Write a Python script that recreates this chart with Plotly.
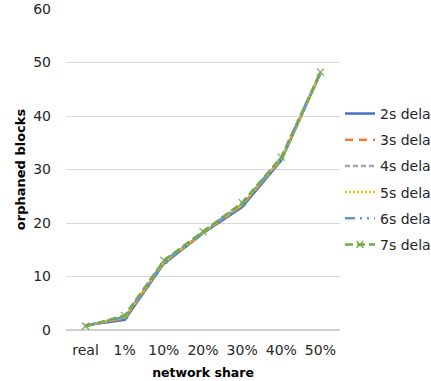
import plotly.graph_objects as go

# network share categories on the x axis
shares = ["real", "1%", "10%", "20%", "30%", "40%", "50%"]

# orphaned blocks per propagation delay
delay_2s = [0.9, 1.9, 12.4, 18.1, 23.0, 31.7, 48.0]
delay_3s = [0.8, 2.2, 12.6, 18.2, 23.3, 31.9, 48.0]
delay_4s = [0.8, 2.3, 12.7, 18.2, 23.4, 32.0, 48.1]
delay_5s = [0.8, 2.4, 12.7, 18.3, 23.5, 32.1, 48.1]
delay_6s = [0.8, 2.5, 12.8, 18.3, 23.6, 32.2, 48.2]
delay_7s = [0.7, 2.7, 13.0, 18.4, 23.8, 32.3, 48.2]

names = ["2s delay", "3s delay", "4s delay", "5s delay", "6s delay", "7s delay"]
colors = ["#4472C4", "#ED7D31", "#A5A5A5", "#FFC000", "#5B9BD5", "#70AD47"]
dashes = ["solid", "8px,6px", "5px,3px", "2px,2px", "10px,5px,2px,5px,2px,5px", "8px,4px"]
series = [delay_2s, delay_3s, delay_4s, delay_5s, delay_6s, delay_7s]

font_family = "DejaVu Sans"

fig = go.Figure()
for i, (name, vals, col, dash) in enumerate(zip(names, series, colors, dashes)):
    with_marker = i == len(names) - 1
    fig.add_trace(go.Scatter(
        x=shares, y=vals, name=name, legendgroup=name,
        mode="lines+markers" if with_marker else "lines",
        line=dict(color=col, width=2.5, dash=dash),
        marker=dict(symbol="x-thin", size=7, line=dict(color=col, width=1.2)) if with_marker else None,
    ))

fig.update_layout(
    width=431, height=381,
    margin=dict(l=66, r=91, t=9, b=51, autoexpand=False),
    paper_bgcolor="white", plot_bgcolor="white",
    font=dict(family=font_family, size=14, color="#262626"),
    showlegend=True,
    legend=dict(
        x=1.0, xanchor="left", y=0.723, yanchor="top",
        font=dict(family=font_family, size=14, color="#262626"),
        tracegroupgap=5, bgcolor="rgba(0,0,0,0)",
    ),
    xaxis=dict(
        type="category", range=[-0.5, 6.5],
        showgrid=False, zeroline=False, showline=False,
        ticks="", tickfont=dict(size=14), ticklabelstandoff=10,
        title=dict(text="<b>network share</b>", font=dict(size=12.5, color="#000000"), standoff=11),
    ),
    yaxis=dict(
        range=[0, 60], dtick=10,
        showgrid=True, gridcolor="#D9D9D9", gridwidth=1,
        zeroline=True, zerolinecolor="#D0D0D0", zerolinewidth=2,
        showline=False, ticks="", tickfont=dict(size=14),
        ticklabelstandoff=14,
        title=dict(text="<b>orphaned blocks</b>", font=dict(size=13, color="#000000"), standoff=4),
    ),
)

fig.write_html("out.html")
